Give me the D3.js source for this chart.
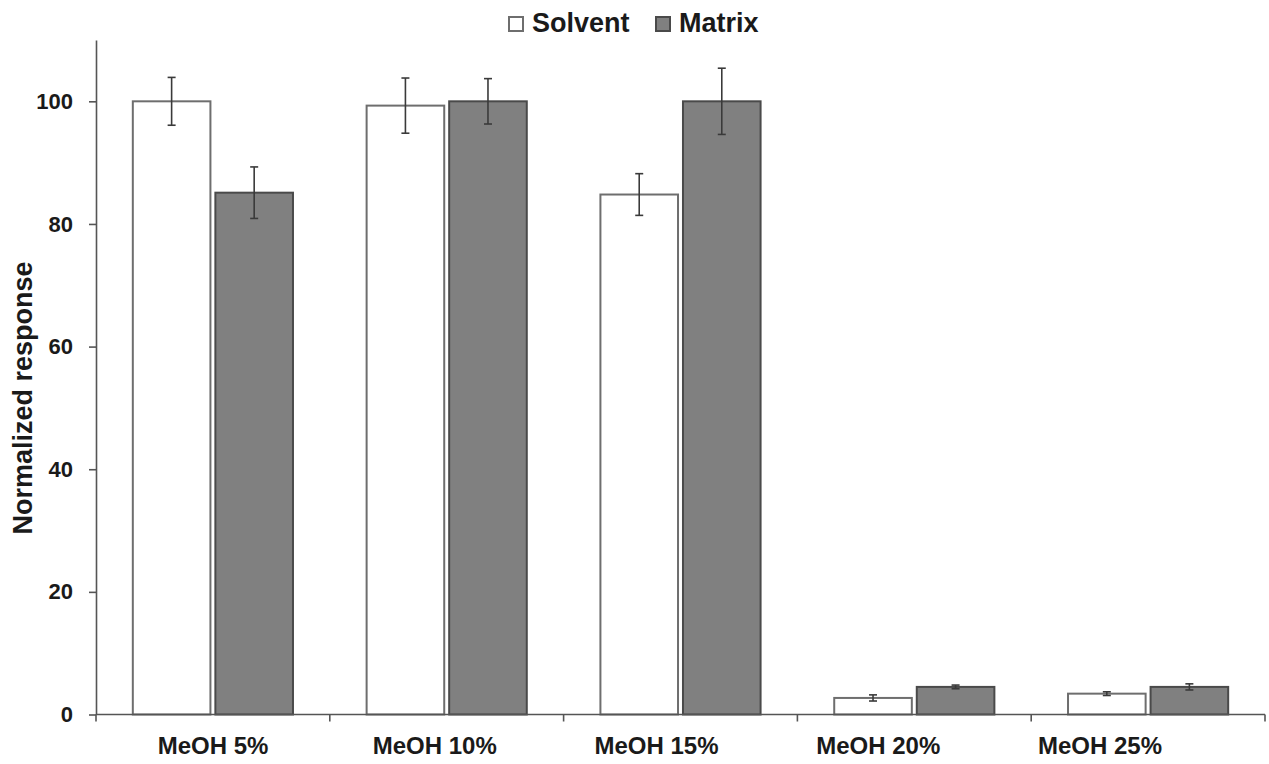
<!DOCTYPE html>
<html>
<head>
<meta charset="utf-8">
<script src="https://cdn.jsdelivr.net/npm/d3@7"></script>
<style>
  html, body { margin: 0; padding: 0; background: #fff; }
  svg { display: block; font-family: "Liberation Sans", Arial, Helvetica, sans-serif; font-weight: bold; }
</style>
</head>
<body>
<svg id="chart" width="1269" height="764"></svg>
<script>
// Methanol content of the injection solvent
const categories = ["MeOH 5%", "MeOH 10%", "MeOH 15%", "MeOH 20%", "MeOH 25%"];
const seriesNames = ["Solvent", "Matrix"];

// Normalized response (mean) and standard deviation per series
const solventValues = [100, 99.3, 84.8, 2.7, 3.4];
const solventErrors = [3.9, 4.5, 3.4, 0.5, 0.3];
const matrixValues = [85.1, 100, 100, 4.5, 4.5];
const matrixErrors = [4.2, 3.7, 5.4, 0.3, 0.5];

const yTicks = [0, 20, 40, 60, 80, 100];

const series = [
  { name: seriesNames[0], values: solventValues, errors: solventErrors, fill: "#ffffff", stroke: "#6e6e6e" },
  { name: seriesNames[1], values: matrixValues, errors: matrixErrors, fill: "#808080", stroke: "#4a4a4a" }
];

const svg = d3.select("#chart");
const plotLeft = 96, plotRight = 1265, plotTop = 40, plotBottom = 714.5;

const x = d3.scaleBand().domain(categories).range([plotLeft, plotRight]).paddingInner(0).paddingOuter(0);
const xs = d3.scaleBand().domain(seriesNames).range([0, x.bandwidth()]).paddingInner(0.06).paddingOuter(0.446);
const y = d3.scaleLinear().domain([0, 110]).range([plotBottom, plotTop]);
// Category labels sit on a slightly narrower grid than the bar groups
const xLabel = d3.scalePoint().domain(categories).range([213, 1100]);

// Bars
series.forEach(s => {
  svg.append("g").selectAll("rect")
    .data(categories.map((c, i) => ({ c, v: s.values[i] })))
    .join("rect")
    .attr("x", d => x(d.c) + xs(s.name))
    .attr("y", d => y(d.v))
    .attr("width", xs.bandwidth())
    .attr("height", d => y(0) - y(d.v))
    .attr("fill", s.fill)
    .attr("stroke", s.stroke)
    .attr("stroke-width", 2);
});

// Error bars
series.forEach(s => {
  const g = svg.append("g").attr("stroke", "#3a3a3a").attr("stroke-width", 1.6).attr("fill", "none");
  categories.forEach((c, i) => {
    const cx = x(c) + xs(s.name) + xs.bandwidth() / 2;
    const hi = y(s.values[i] + s.errors[i]);
    const lo = y(s.values[i] - s.errors[i]);
    g.append("line").attr("x1", cx).attr("x2", cx).attr("y1", hi).attr("y2", lo);
    g.append("line").attr("x1", cx - 4).attr("x2", cx + 4).attr("y1", hi).attr("y2", hi);
    g.append("line").attr("x1", cx - 4).attr("x2", cx + 4).attr("y1", lo).attr("y2", lo);
  });
});

// Y axis
const yAxis = svg.append("g")
  .attr("transform", `translate(${plotLeft},0)`)
  .call(d3.axisLeft(y).tickValues(yTicks).tickSize(7).tickPadding(16).tickSizeOuter(0));
yAxis.select(".domain").attr("stroke", "#555").attr("stroke-width", 1.6);
yAxis.selectAll(".tick line").attr("stroke", "#555").attr("stroke-width", 1.6);
yAxis.selectAll(".tick text")
  .attr("fill", "#1a1a1a")
  .style("font-size", "22px")
  .style("font-weight", "bold")
  .style("font-family", "'Liberation Sans', Arial, sans-serif");

// X axis: ticks at category boundaries
const xAxisG = svg.append("g").attr("stroke", "#555").attr("stroke-width", 1.6);
xAxisG.append("line").attr("x1", plotLeft).attr("x2", plotRight).attr("y1", y(0)).attr("y2", y(0));
const bounds = categories.map(c => x(c)).concat([x(categories[categories.length - 1]) + x.bandwidth()]);
xAxisG.selectAll("line.tk").data(bounds).join("line").attr("class", "tk")
  .attr("x1", d => d).attr("x2", d => d).attr("y1", y(0)).attr("y2", y(0) + 7);

svg.append("g").selectAll("text").data(categories).join("text")
  .attr("x", d => xLabel(d))
  .attr("y", 754)
  .attr("text-anchor", "middle")
  .attr("fill", "#1a1a1a")
  .style("font-size", "24px")
  .text(d => d);

// Y title
svg.append("text")
  .attr("transform", "translate(32,398) rotate(-90)")
  .attr("text-anchor", "middle")
  .attr("fill", "#1a1a1a")
  .style("font-size", "27px")
  .text("Normalized response");

// Legend
const legendItems = [
  { name: seriesNames[0], x: 509, fill: "#ffffff", stroke: "#6e6e6e" },
  { name: seriesNames[1], x: 656, fill: "#808080", stroke: "#4a4a4a" }
];
const lg = svg.append("g");
legendItems.forEach(it => {
  lg.append("rect").attr("x", it.x).attr("y", 17).attr("width", 14).attr("height", 14)
    .attr("fill", it.fill).attr("stroke", it.stroke).attr("stroke-width", 2);
  lg.append("text").attr("x", it.x + 23).attr("y", 32).attr("fill", "#1a1a1a")
    .style("font-size", "27px").text(it.name);
});
</script>
</body>
</html>
